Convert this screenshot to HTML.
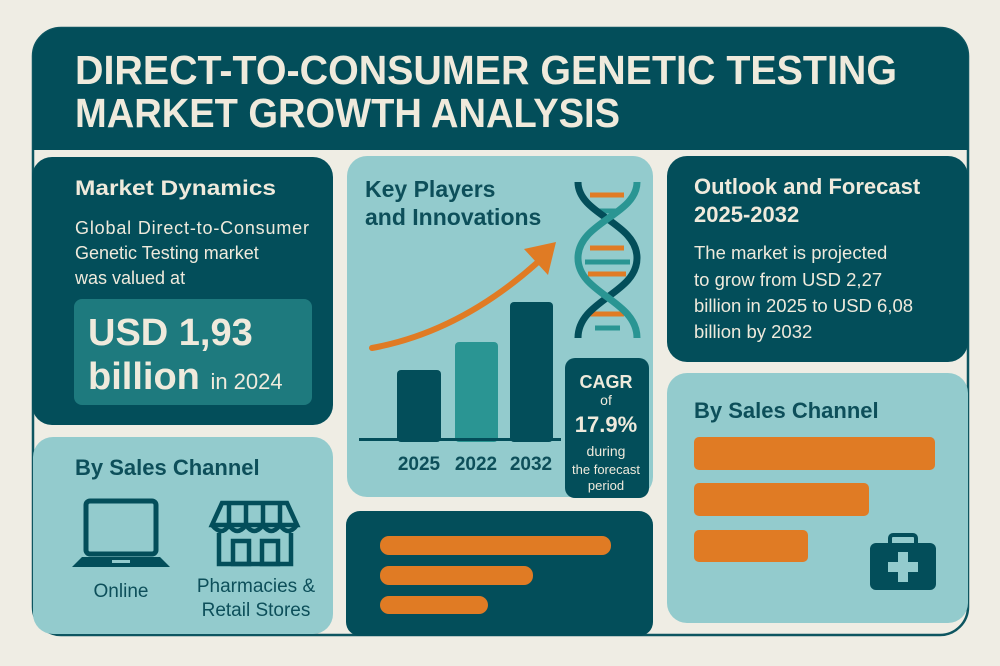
<!DOCTYPE html>
<html><head><meta charset="utf-8"><style>
html,body{margin:0;padding:0;background:#efede4;}
svg{display:block;font-family:"Liberation Sans",sans-serif;}
</style></head><body>
<svg width="1000" height="666" viewBox="0 0 1000 666" xmlns="http://www.w3.org/2000/svg">
<rect width="1000" height="666" fill="#efede4"/>
<rect x="33" y="28" width="935" height="607" rx="28" fill="none" stroke="#0d5560" stroke-width="2.5"/>
<path d="M33 150 V56 a28 28 0 0 1 28 -28 H940 a28 28 0 0 1 28 28 V150 Z" fill="#034e5a"/>
<rect x="35" y="150" width="931" height="6" fill="#efede4"/>
<text font-weight="bold" font-size="41" fill="#efeadc" x="75" y="84" textLength="822" lengthAdjust="spacingAndGlyphs">DIRECT-TO-CONSUMER GENETIC TESTING</text>
<text font-weight="bold" font-size="41" fill="#efeadc" x="75" y="127" textLength="545" lengthAdjust="spacingAndGlyphs">MARKET GROWTH ANALYSIS</text>

<rect x="32" y="157" width="301" height="268" rx="20" fill="#034e5a"/>
<text x="75" y="195" font-size="21" font-weight="bold" fill="#efeadc" textLength="201" lengthAdjust="spacingAndGlyphs">Market Dynamics</text>
<g font-size="18" fill="#efeadc">
<text x="75" y="234" textLength="234" lengthAdjust="spacing">Global Direct-to-Consumer</text>
<text x="75" y="259">Genetic Testing market</text>
<text x="75" y="284">was valued at</text>
</g>
<rect x="74" y="299" width="238" height="106" rx="8" fill="#1e7a7e"/>
<text x="88" y="345" font-size="38" font-weight="bold" fill="#efeadc">USD 1,93</text>
<text x="88" y="389" font-size="38" font-weight="bold" fill="#efeadc">billion <tspan font-size="22" font-weight="normal">in 2024</tspan></text>

<rect x="347" y="156" width="306" height="341" rx="20" fill="#93cbcd"/>
<text x="365" y="197" font-size="23" font-weight="bold" fill="#0d4f5a">Key Players</text>
<text x="365" y="225" font-size="23" font-weight="bold" fill="#0d4f5a">and Innovations</text>
<rect x="397" y="370" width="44" height="72" rx="4" fill="#034e5a"/>
<rect x="455" y="342" width="43" height="100" rx="4" fill="#2a9593"/>
<rect x="510" y="302" width="43" height="140" rx="4" fill="#034e5a"/>
<rect x="359" y="438" width="202" height="3" fill="#034e5a"/>
<g font-size="19" font-weight="bold" fill="#0d4f5a" text-anchor="middle">
<text x="419" y="470">2025</text><text x="476" y="470">2022</text><text x="531" y="470">2032</text>
</g>
<path d="M372 348 Q460 332 538 262" stroke="#e07b24" stroke-width="6" fill="none" stroke-linecap="round"/>
<polygon points="524,249 556,242 548,275" fill="#e07b24"/>
<g stroke-width="5" fill="none">
<g stroke="#e07b24"><line x1="590" y1="195" x2="624" y2="195"/><line x1="590" y1="248" x2="624" y2="248"/><line x1="588" y1="274" x2="626" y2="274"/><line x1="590" y1="314" x2="624" y2="314"/></g>
<g stroke="#2a9593"><line x1="595" y1="211" x2="620" y2="211"/><line x1="585" y1="262" x2="630" y2="262"/><line x1="595" y1="328" x2="620" y2="328"/></g>
<path d="M578 182 C578 215 637 222 637 258 C637 294 578 300 578 338" stroke="#034e5a" stroke-width="7"/>
<path d="M637 182 C637 215 578 222 578 258 C578 294 637 300 637 338" stroke="#2a9593" stroke-width="7"/>
</g>
<rect x="565" y="358" width="84" height="140" rx="10" fill="#034e5a"/>
<g fill="#efeadc" text-anchor="middle">
<text x="606" y="388" font-size="18" font-weight="bold">CAGR</text>
<text x="606" y="405" font-size="14">of</text>
<text x="606" y="432" font-size="22" font-weight="bold">17.9%</text>
<text x="606" y="456" font-size="14">during</text>
<text x="606" y="474" font-size="13">the forecast</text>
<text x="606" y="490" font-size="13">period</text>
</g>

<rect x="667" y="156" width="301" height="206" rx="20" fill="#034e5a"/>
<g fill="#efeadc">
<text x="694" y="194" font-size="22" font-weight="bold">Outlook and Forecast</text>
<text x="694" y="222" font-size="22" font-weight="bold">2025-2032</text>
<g font-size="18.5"><text x="694" y="259">The market is projected</text><text x="694" y="286">to grow from USD 2,27</text><text x="694" y="312">billion in 2025 to USD 6,08</text><text x="694" y="338">billion by 2032</text></g>
</g>

<rect x="667" y="373" width="301" height="250" rx="20" fill="#93cbcd"/>
<text x="694" y="418" font-size="22" font-weight="bold" fill="#0d4f5a">By Sales Channel</text>
<rect x="694" y="437" width="241" height="33" rx="5" fill="#e07b24"/>
<rect x="694" y="483" width="175" height="33" rx="5" fill="#e07b24"/>
<rect x="694" y="530" width="114" height="32" rx="5" fill="#e07b24"/>
<rect x="870" y="543" width="66" height="47" rx="6" fill="#034e5a"/>
<rect x="890" y="535" width="26" height="12" rx="3" fill="none" stroke="#034e5a" stroke-width="4"/>
<rect x="898" y="552" width="10" height="30" fill="#93cbcd"/><rect x="888" y="562" width="30" height="10" fill="#93cbcd"/>

<rect x="33" y="437" width="300" height="197" rx="20" fill="#93cbcd"/>
<text x="75" y="475" font-size="22" font-weight="bold" fill="#0d4f5a">By Sales Channel</text>
<rect x="86" y="501" width="70" height="53" rx="4" fill="none" stroke="#034e5a" stroke-width="5"/>
<path d="M72 567 L82 557 H160 L170 567 Z" fill="#034e5a"/>
<rect x="112" y="560" width="18" height="3" fill="#93cbcd"/>
<g stroke="#034e5a" stroke-width="4.5" fill="none">
<path d="M222 503 H287 L297 525 H212 Z"/>
<path d="M212 525 q10 12 17 0 q8 12 17 0 q8 12 17 0 q8 12 17 0 q8 12 17 0"/>
<path d="M229 503 L229 525 M246 503 V525 M263 503 V525 M280 503 V525"/>
<path d="M219 533 V564 H291 V533"/>
<rect x="233" y="541" width="16" height="23"/><rect x="262" y="541" width="16" height="23"/>
</g>
<g font-size="19" fill="#0d4f5a" text-anchor="middle">
<text x="121" y="597">Online</text>
<text x="256" y="592">Pharmacies &amp;</text>
<text x="256" y="616">Retail Stores</text>
</g>

<rect x="346" y="511" width="307" height="125" rx="14" fill="#034e5a"/>
<rect x="380" y="536" width="231" height="19" rx="9" fill="#e07b24"/>
<rect x="380" y="566" width="153" height="19" rx="9" fill="#e07b24"/>
<rect x="380" y="596" width="108" height="18" rx="9" fill="#e07b24"/>
</svg>
</body></html>
